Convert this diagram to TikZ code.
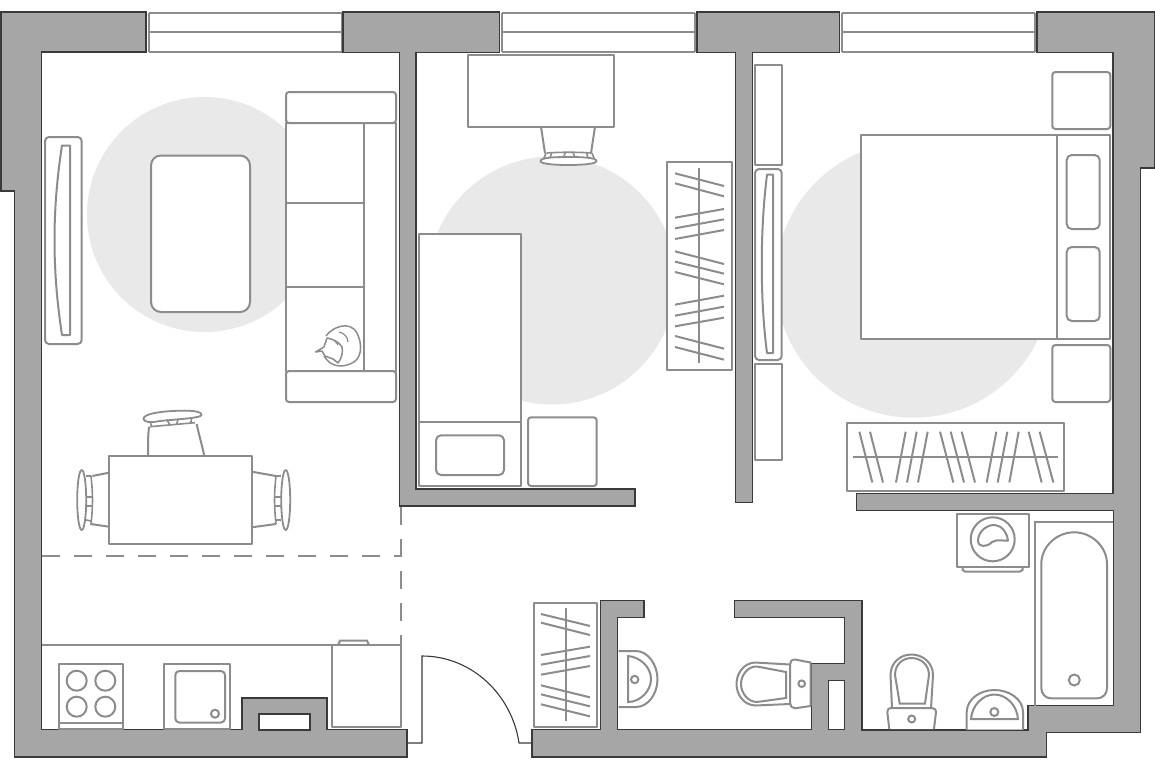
\documentclass[tikz,border=0pt]{standalone}
\definecolor{wallc}{HTML}{A6A6A6}
\definecolor{edgec}{HTML}{3A3A3A}
\definecolor{furn}{HTML}{8C8C8C}
\definecolor{zone}{HTML}{E9E9E9}
\tikzset{
  wall/.style={fill=wallc,draw=edgec,line width=1.1pt,line join=miter},
  hole/.style={fill=white,draw=edgec,line width=1.1pt},
  win/.style={draw=furn,line width=2.8pt},
  fur/.style={draw=furn,line width=2pt,fill=white,line join=round},
  lin/.style={draw=furn,line width=2pt},
  hang/.style={draw=furn,line width=2pt},
  zonedisc/.style={fill=zone,draw=none},
  dashline/.style={draw=furn,line width=1.9pt,dash pattern=on 17.5pt off 14.5pt},
  doorline/.style={draw=edgec,line width=1.1pt}
}
\begin{document}
\begin{tikzpicture}[x=1pt,y=-1pt]
\useasboundingbox (0,0) rectangle (1155,768);
\fill[white] (0,0) rectangle (1155,768);
% zones
\fill[zonedisc] (204.5,214.5) circle (117.5);
\fill[zonedisc] (552,280.5) circle (124);
\fill[zonedisc] (913.5,279.7) circle (138);
% windows
\foreach \a/\b in {149/342,502/695,842/1035}{
  \draw[win] (\a,13) -- (\b,13) (\a,32) -- (\b,32) (\a,52) -- (\b,52) (\a,13) -- (\a,52) (\b,13) -- (\b,52);
}
% dashes
\draw[dashline] (42,556) -- (401,556);
\draw[dashline] (401,507) -- (401,645);
% kitchen line
\draw[lin] (42,645) -- (401,645);
% door
\draw[doorline] (407,743) -- (422,743) -- (422,656) .. controls (472,656) and (512,695) .. (519,743) -- (532,743);
% walls
\draw[wall] (1,12) -- (146,12) -- (146,52) -- (41.5,52) -- (41.5,729.5) -- (242,729.5) -- (242,698) -- (327,698) -- (327,729.5) -- (407,729.5) -- (407,757) -- (14.5,757) -- (14.5,191) -- (1,191) -- cycle;
\draw[hole] (259,714) rectangle (310,730);
\draw[wall] (343,12) -- (499.5,12) -- (499.5,52.5) -- (416,52.5) -- (416,489) -- (635,489) -- (635,506) -- (399.5,506) -- (399.5,52.5) -- (343,52.5) -- cycle;
\draw[wall] (697,12) -- (839.5,12) -- (839.5,52.5) -- (752.5,52.5) -- (752.5,502.7) -- (735.5,502.7) -- (735.5,52.5) -- (697,52.5) -- cycle;
\draw[wall] (1037,12) -- (1154.5,12) -- (1154.5,168) -- (1140.5,168) -- (1140.5,732.5) -- (1046.7,732.5) -- (1046.7,757) -- (532,757) -- (532,729.5) -- (600.7,729.5) -- (600.7,600.3) -- (644,600.3) -- (644,617.3) -- (617.7,617.3) -- (617.7,729.5) -- (811.3,729.5) -- (811.3,663.3) -- (844.7,663.3) -- (844.7,617.3) -- (734.5,617.3) -- (734.5,600.3) -- (862,600.3) -- (862,730) -- (1028,730) -- (1028,705.7) -- (1113.3,705.7) -- (1113.3,510.7) -- (856.3,510.7) -- (856.3,493.5) -- (1113,493.5) -- (1113,52.5) -- (1037,52.5) -- cycle;
\draw[hole] (828.3,680.7) rectangle (844.7,729.5);
% TV living
\draw[fur,rounded corners=4pt] (45,137) rectangle (81.7,344);
\draw[fur] (62,145.5) -- (70,145.5) -- (70,335) -- (62,335) .. controls (52,270) and (52,210) .. (62,145.5) -- cycle;
% coffee table
\draw[fur,rounded corners=10pt] (151,155.5) rectangle (250,312);
% sofa
\draw[fur] (286,123) rectangle (396,372);
\draw[lin] (364,123) -- (364,372) (286,203) -- (364,203) (286,287) -- (364,287);
\draw[fur,rounded corners=3pt] (286,92) rectangle (396,123);
\draw[fur,rounded corners=3pt] (286,371) rectangle (396,402);
% cat
\draw[fur,line width=1.5pt] (326,336) .. controls (332,327) and (350,320) .. (357,333) .. controls (363,345) and (362,360) .. (350,364) .. controls (340,368) and (330,366) .. (324,356);
\draw[fur,line width=1.5pt] (315.5,352) -- (324,347) -- (327,338) .. controls (333,339) and (339,342) .. (342,347) .. controls (343,352) and (342,358) .. (338,363) -- (333,359) -- (325,356) -- (322,351) -- cycle;
\draw[lin,line width=1.2pt] (339,332) .. controls (344,333) and (348,337) .. (348,342) (335,341) -- (338,345);
% dining table
\draw[lin] (148,456) .. controls (148,445) and (148,435) .. (149,426.7);
\draw[lin] (204.3,456) .. controls (202,445) and (199,435) .. (196.7,424);
\draw[fur,line width=1.8pt] (143.5,419) .. controls (143,414) and (160,411.5) .. (173,411) .. controls (190,410) and (202,411) .. (201.5,415) .. controls (201,418) and (180,419) .. (160,421) .. controls (150,423) and (144,422) .. (143.5,419) -- cycle;
\draw[lin,line width=1.6pt] (150,426.7) -- (195,422.7) (150,421.5) -- (151.7,426.5) (166.7,419.5) -- (170,425) (178.3,418.5) -- (176.7,424) (191.7,417.5) -- (190.7,423);
\draw[fur,line width=1.8pt] (81.7,500) ellipse (4.5 and 30);
\draw[lin,line width=1.6pt] (91,476) .. controls (93,495) and (93,505) .. (91,525);
\draw[lin,line width=1.6pt] (86,476) -- (91,476) (86,497) -- (92,497) (86,506) -- (92,506) (86,520) -- (91,521);
\draw[lin] (109,472.7) -- (92.3,476) (109,526.7) -- (90.7,524);
\draw[fur,line width=1.8pt] (285.7,500) ellipse (4.5 and 30);
\draw[lin,line width=1.6pt] (276,476) .. controls (274,495) and (274,505) .. (276,524);
\draw[lin,line width=1.6pt] (276,476) -- (281,476) (275,497) -- (281,497) (275,506) -- (281,506) (276,520) -- (281,520);
\draw[lin] (251.7,471.7) -- (276,476) (251.7,527.3) -- (276,524);
\draw[fur] (109,456) rectangle (251.7,544.3);
% kitchen
\draw[fur] (331.7,645) rectangle (401,726.7);
\draw[lin] (338,645) -- (340,640.7) -- (367,640.7) -- (369,645);
\draw[fur] (59,664.3) rectangle (122.7,729);
\draw[lin] (59,723) -- (122.7,723);
\foreach \p in {(76.7,680.7),(105.3,680.7),(76.7,706.7),(105.3,706.7)}{\draw[lin] \p circle (10);}
\draw[fur] (164.3,664.3) rectangle (229.7,729);
\draw[fur,rounded corners=4pt] (175.3,671) rectangle (225,722.5);
\draw[lin] (215,713.7) circle (4);
% room 2
\draw[fur] (468.3,55.3) rectangle (613.7,126.7);
\draw[lin] (541,126.7) -- (545,153.3) (595,126.7) -- (591,153.3);
\draw[lin,line width=1.6pt] (546.7,153) .. controls (560,152) and (578,152) .. (591.7,153);
\draw[lin,line width=1.6pt] (551.7,153) -- (550,158) (565,153) -- (563.5,158) (573.3,153) -- (575,158) (586.7,153) -- (588,158) (546,153) -- (544,158) (592,153) -- (594,158);
\draw[fur,line width=1.8pt] (540.5,161) .. controls (540.5,157.5) and (555,157) .. (568,157) .. controls (582,157) and (596.5,157.5) .. (596.5,161) .. controls (596.5,164) and (582,165) .. (568,165) .. controls (555,165) and (540.5,164) .. (540.5,161) -- cycle;
\draw[fur] (419,234.3) rectangle (521.3,486);
\draw[lin] (419,421.7) -- (521.3,421.7);
\draw[fur,rounded corners=5pt] (436,435.3) rectangle (504,475);
\draw[fur,rounded corners=3pt] (528,417.3) rectangle (596.7,486);
% wardrobe room 2
\draw[fur] (667,161.7) rectangle (732,370);
\draw[hang] (699,168) -- (699,363);
\foreach \a/\b in {520/558,550/589,653/627,685/658,717/690,754/792,785/821,816/853,914/887,947/920,979/953,1008/1046,1041/1079}{
  \draw[hang] (675,\a/3) -- (724,\b/3);
}
% bedroom left wall units
\draw[fur] (755,65) rectangle (781.7,164.7);
\draw[fur] (755,364) rectangle (781.7,460);
\draw[fur,rounded corners=4pt] (755,169) rectangle (781.7,360);
\draw[fur] (767,174.7) -- (773,174.7) -- (773,353) -- (767,353) .. controls (760,300) and (760,230) .. (767,174.7) -- cycle;
% bed
\draw[fur] (861,135) rectangle (1057.3,339.3);
\draw[fur] (1057.3,135) rectangle (1110.3,339.3);
\draw[fur,rounded corners=5pt] (1066.7,155) rectangle (1099.7,229);
\draw[fur,rounded corners=5pt] (1066.7,247) rectangle (1099.7,321);
\draw[fur,rounded corners=3pt] (1052.3,72) rectangle (1110.3,129);
\draw[fur,rounded corners=3pt] (1052.3,345) rectangle (1110.3,402);
% wardrobe bedroom
\draw[fur] (846.7,422.7) rectangle (1064.3,491.3);
\draw[hang] (853,457) -- (1057.5,457);
\foreach \a/\b in {358/397,390/429,497/468,530/501,563/534,600/640,632/672,665/705,769/740,802/773,836/808,866/905,899/940}{
  \draw[hang] ({740+\a/3},431.7) -- ({740+\b/3},482.5);
}
% hall wardrobe
\draw[fur] (534.3,603) rectangle (597,726.7);
\draw[hang] (565.7,608) -- (565.7,721);
\foreach \a/\b in {72/108,98/135,195/170,224/198,254/228,286/322,313/349,343/379}{
  \draw[hang] (541,{590+\a/3}) -- (590,{590+\b/3});
}
% WC sink
\draw[fur] (618.5,651) -- (636,651) .. controls (648,651) and (657.5,665) .. (657.5,679) .. controls (657.5,694) and (648,707) .. (636,707) -- (618.5,707);
\draw[lin] (628,656) .. controls (640,657) and (651,667) .. (651,679) .. controls (651,691) and (640,702) .. (628,702) -- cycle;
\draw[lin] (634.7,679.5) circle (3.7);
% WC toilet
\draw[fur] (790,664.5) -- (755,662.5) .. controls (744,663) and (736.5,673) .. (736.5,684) .. controls (736.5,695) and (744,705) .. (755,705.5) -- (790,704) -- cycle;
\draw[lin] (786,672) -- (757,666.5) .. controls (748,666) and (741,675) .. (741,684) .. controls (741,693) and (748,702) .. (757,702) -- (786,698) -- cycle;
\draw[fur] (810.5,662.5) -- (795,659.5) .. controls (791,659.5) and (790,662) .. (790,665) -- (790,703) .. controls (790,706) and (792,708.3) .. (795,708.3) -- (810.5,706) -- cycle;
\draw[lin] (801.7,683.7) circle (3.3);
% washing machine
\draw[lin] (962.7,566.7) -- (962.7,570) -- (965,571.5) -- (1020,571.5) -- (1022.5,570) -- (1022.5,566.7);
\draw[fur] (956.7,513.7) rectangle (1028.7,566.7);
\draw[lin] (992.7,539.3) circle (22);
\draw[fur] (978,540) .. controls (979,530) and (988,524.5) .. (995,525) .. controls (1002,525.5) and (1007,533) .. (1008,540.5) .. controls (1002,541) and (997,539) .. (992,542) .. controls (989,545) and (986,546) .. (983,546) .. controls (980,546) and (978,544) .. (978,540) -- cycle;
% bath
\draw[lin] (1113,522.3) -- (1035,522.3) -- (1035,705.7);
\draw[fur] (1074.2,532.3) .. controls (1092,532.3) and (1107,547) .. (1107,564) -- (1107,688) .. controls (1107,694) and (1103,698.3) .. (1097,698.3) -- (1051,698.3) .. controls (1045.5,698.3) and (1041.3,694) .. (1041.3,688) -- (1041.3,564) .. controls (1041.3,547) and (1056,532.3) .. (1074.2,532.3) -- cycle;
\draw[lin] (1074.3,680) circle (5.5);
% toilet 2
\draw[fur] (892,708.5) -- (890.5,675) .. controls (890.5,663) and (900,654.5) .. (911.5,654.5) .. controls (923,654.5) and (933,663) .. (933,675) -- (931,708.5) -- cycle;
\draw[lin] (899.7,703.5) -- (895,675) .. controls (895,665) and (902,658) .. (911.5,658) .. controls (921,658) and (929,665) .. (929,675) -- (925,703.5) -- cycle;
\draw[fur] (889.3,729) -- (887.3,712) .. controls (887.3,709) and (889,708) .. (891,708) -- (932,708) .. controls (935,708) and (936,710) .. (936,712) -- (934,729);
\draw[lin] (911.7,719) circle (3.5);
% sink 2
\draw[fur] (966.7,729.5) -- (966.7,712) .. controls (967,699) and (980,690) .. (994.5,690) .. controls (1009,690) and (1023,699) .. (1023,712) -- (1023,729.5);
\draw[lin] (971,719) .. controls (972,705) and (983,694.5) .. (994.5,694.5) .. controls (1006,694.5) and (1017,705) .. (1018,719) -- cycle;
\draw[lin] (994.3,712) circle (4);
\end{tikzpicture}
\end{document}
